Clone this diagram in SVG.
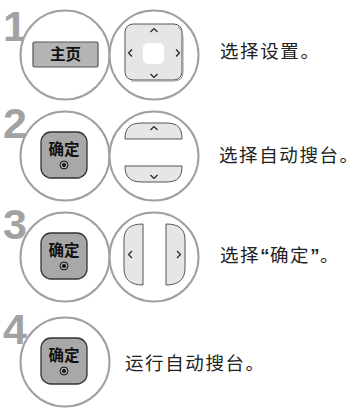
<svg xmlns="http://www.w3.org/2000/svg" width="358" height="408" viewBox="0 0 358 408">
<style>
.num{font-family:"Liberation Sans",Arial,sans-serif;font-weight:bold;font-size:43px;fill:#a2a2a2}
.ring{fill:#fff;stroke:#a0a0a0;stroke-width:2}
.lbl{font-family:"Noto Sans CJK SC","Noto Sans",sans-serif;font-size:18.5px;fill:#222;letter-spacing:1.6px}
.q{font-family:"Liberation Sans",Arial,sans-serif;font-weight:bold;letter-spacing:0.5px}
.end{letter-spacing:0}
.btxt{font-family:"Noto Sans CJK SC","Noto Sans",sans-serif;font-weight:bold;font-size:15.5px;fill:#111}
.ok{fill:#a8a8a8;stroke:#333;stroke-width:1.3}
.key{fill:#e6e6e6;stroke:#555;stroke-width:1}
.chev{fill:none;stroke:#222;stroke-width:1.2}
</style>
<g id="step1">
<text class="num" x="3" y="41">1</text>
<circle class="ring" cx="65" cy="55" r="44.5"/>
<circle class="ring" cx="154" cy="55" r="44.5"/>
<rect x="33" y="42" width="65" height="25" rx="1.5" fill="#b4b4b4" stroke="#555" stroke-width="1.2"/>
<text class="btxt" x="65.5" y="60" text-anchor="middle">主页</text>
<rect class="key" x="125" y="24" width="57" height="56" rx="8"/>
<path d="M178,27 Q183,30 183,38 L183,72 Q183,81 174,81 L131,81" fill="none" stroke="#999" stroke-width="1"/>
<rect x="143" y="43" width="21" height="21" rx="5" fill="#fff"/>
<polyline class="chev" points="150.5,32 154,28.5 157.5,32"/>
<polyline class="chev" points="150.5,74 154,77.5 157.5,74"/>
<polyline class="chev" points="132,49.5 128.5,53 132,56.5"/>
<polyline class="chev" points="176,49.5 179.5,53 176,56.5"/>
<text class="lbl" x="220" y="58">选择设置<tspan class="end">。</tspan></text>
</g>
<g id="step2">
<text class="num" x="3" y="138">2</text>
<circle class="ring" cx="65" cy="156" r="44.5"/>
<circle class="ring" cx="154" cy="156" r="44.5"/>
<rect class="ok" x="41" y="132" width="46" height="46" rx="10"/>
<text class="btxt" x="64" y="155" text-anchor="middle">确定</text>
<circle cx="64" cy="165" r="4" fill="none" stroke="#111" stroke-width="1"/>
<circle cx="64" cy="165" r="2" fill="#111"/>
<path class="key" d="M125,139 C125,128 130,123 142,123 L166,123 C178,123 182,128 182,139 Z"/>
<path class="key" d="M125,166 L182,166 C182,177 178,182 166,182 L142,182 C130,182 125,177 125,166 Z"/>
<polyline class="chev" points="150.5,130 154,126.5 157.5,130"/>
<polyline class="chev" points="150.5,175 154,178.5 157.5,175"/>
<text class="lbl" x="219" y="162">选择自动搜台<tspan class="end">。</tspan></text>
</g>
<g id="step3">
<text class="num" x="3" y="239">3</text>
<circle class="ring" cx="65" cy="257" r="44.5"/>
<circle class="ring" cx="154" cy="257" r="44.5"/>
<rect class="ok" x="41" y="233" width="46" height="46" rx="10"/>
<text class="btxt" x="64" y="256" text-anchor="middle">确定</text>
<circle cx="64" cy="266" r="4" fill="none" stroke="#111" stroke-width="1"/>
<circle cx="64" cy="266" r="2" fill="#111"/>
<path class="key" d="M143,224 L143,285 C130,285 124,279 124,268 L124,240 C124,229 130,224 143,224 Z"/>
<path class="key" d="M166,224 L166,285 C179,285 185,279 185,268 L185,240 C185,229 179,224 166,224 Z"/>
<polyline class="chev" points="132,251 128.5,254.5 132,258"/>
<polyline class="chev" points="177,251 180.5,254.5 177,258"/>
<text class="lbl" x="220" y="262">选择<tspan class="q">“</tspan>确定<tspan class="q">”</tspan><tspan class="end">。</tspan></text>
</g>
<g id="step4">
<text class="num" x="3" y="344">4</text>
<circle class="ring" cx="65" cy="362" r="44.5"/>
<rect class="ok" x="41" y="338" width="46" height="46" rx="10"/>
<text class="btxt" x="64" y="361" text-anchor="middle">确定</text>
<circle cx="64" cy="371" r="4" fill="none" stroke="#111" stroke-width="1"/>
<circle cx="64" cy="371" r="2" fill="#111"/>
<text class="lbl" x="125" y="370">运行自动搜台<tspan class="end">。</tspan></text>
</g>
<g id="connectors"/>
</svg>
